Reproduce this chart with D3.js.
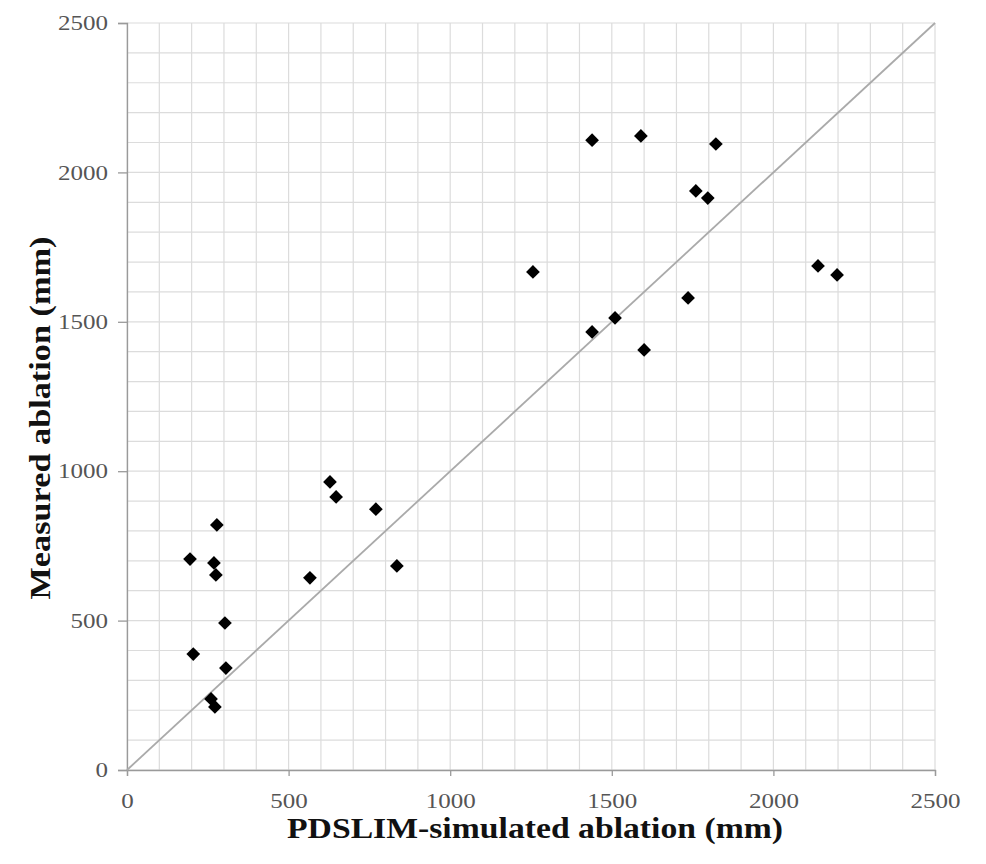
<!DOCTYPE html>
<html>
<head>
<meta charset="utf-8">
<script src="https://cdn.jsdelivr.net/npm/d3@7"></script>
<style>
  body { margin: 0; background: #fff; }
  svg { display: block; }
</style>
</head>
<body>
<div id="viz"></div>
<script>
// simulated vs measured ablation (mm)
var simulated = [195, 205, 278, 269, 275, 303, 306, 260, 272, 566, 628, 647, 770, 835,
                 1256, 1439, 1439, 1510, 1590, 1600, 1736, 1760, 1797, 1822, 2138, 2197];
var measured  = [706, 388, 820, 693, 653, 492, 341, 238, 211, 643, 964, 914, 873, 683,
                 1667, 1466, 2108, 1513, 2122, 1406, 1580, 1938, 1914, 2095, 1687, 1657];
var tickValues = [0, 500, 1000, 1500, 2000, 2500];
var gridValues = d3.range(0, 2501, 100);
var oneToOne = [0, 2500];

var data = simulated.map(function(s, i) { return {x: s, y: measured[i]}; });

var margin = {top: 23, right: 51, bottom: 94, left: 127},
    width = 986 - margin.left - margin.right,
    height = 864 - margin.top - margin.bottom;

var serif = '"Liberation Serif", "Times New Roman", serif';

var xScale = d3.scaleLinear().domain([0, 2500]).range([0, width]);
var yScale = d3.scaleLinear().domain([0, 2500]).range([height, 0]);

var svg = d3.select('#viz').append('svg')
    .attr('width', 986)
    .attr('height', 864);

var chart = svg.append('g')
    .attr('transform', 'translate(' + margin.left + ',' + margin.top + ')');

// grid
chart.append('g')
  .selectAll('line')
  .data(gridValues)
  .enter().append('line')
    .attr('x1', function(d) { return xScale(d); })
    .attr('x2', function(d) { return xScale(d); })
    .attr('y1', 0)
    .attr('y2', height)
    .attr('stroke', '#dcdcdc')
    .attr('stroke-width', 1.2);

chart.append('g')
  .selectAll('line')
  .data(gridValues)
  .enter().append('line')
    .attr('y1', function(d) { return yScale(d); })
    .attr('y2', function(d) { return yScale(d); })
    .attr('x1', 0)
    .attr('x2', width)
    .attr('stroke', '#dcdcdc')
    .attr('stroke-width', 1.2);

// axes
var xAxis = d3.axisBottom(xScale).tickValues(tickValues).tickFormat(d3.format('d'))
    .tickSize(6).tickPadding(17);
var yAxis = d3.axisLeft(yScale).tickValues(tickValues).tickFormat(d3.format('d'))
    .tickSize(9).tickPadding(10);

var xg = chart.append('g')
    .attr('transform', 'translate(0,' + height + ')')
    .call(xAxis);
var yg = chart.append('g').call(yAxis);

[xg, yg].forEach(function(g) {
  g.select('.domain').attr('stroke', '#9a9a9a').attr('stroke-width', 1.3);
  g.selectAll('.tick line').attr('stroke', '#9a9a9a').attr('stroke-width', 1.3);
  g.selectAll('.tick text')
    .attr('fill', '#555')
    .attr('textLength', function(d) { return String(d).length * 12.5; })
    .attr('lengthAdjust', 'spacingAndGlyphs')
    .style('font-family', serif)
    .style('font-size', '21px');
});

// 1:1 line
var lineFunc = d3.line()
  .x(function(d) { return xScale(d); })
  .y(function(d) { return yScale(d); });

chart.append('path')
  .attr('d', lineFunc(oneToOne))
  .attr('stroke', '#aaaaaa')
  .attr('stroke-width', 1.8)
  .attr('fill', 'none');

// points
chart.append('g')
  .selectAll('path')
  .data(data)
  .enter().append('path')
    .attr('d', d3.symbol().type(d3.symbolDiamond2).size(120))
    .attr('transform', function(d) {
      return 'translate(' + xScale(d.x) + ',' + yScale(d.y) + ')';
    })
    .attr('fill', '#000');

// labels
svg.append('text')
  .attr('x', 535)
  .attr('y', 838)
  .attr('text-anchor', 'middle')
  .attr('textLength', 496)
  .attr('lengthAdjust', 'spacingAndGlyphs')
  .style('font-family', serif)
  .style('font-weight', 'bold')
  .style('font-size', '30px')
  .attr('fill', '#111')
  .text('PDSLIM-simulated ablation (mm)');

svg.append('text')
  .attr('transform', 'translate(50,418) rotate(-90)')
  .attr('text-anchor', 'middle')
  .attr('textLength', 363)
  .attr('lengthAdjust', 'spacingAndGlyphs')
  .style('font-family', serif)
  .style('font-weight', 'bold')
  .style('font-size', '30px')
  .attr('fill', '#111')
  .text('Measured ablation (mm)');
</script>
</body>
</html>
